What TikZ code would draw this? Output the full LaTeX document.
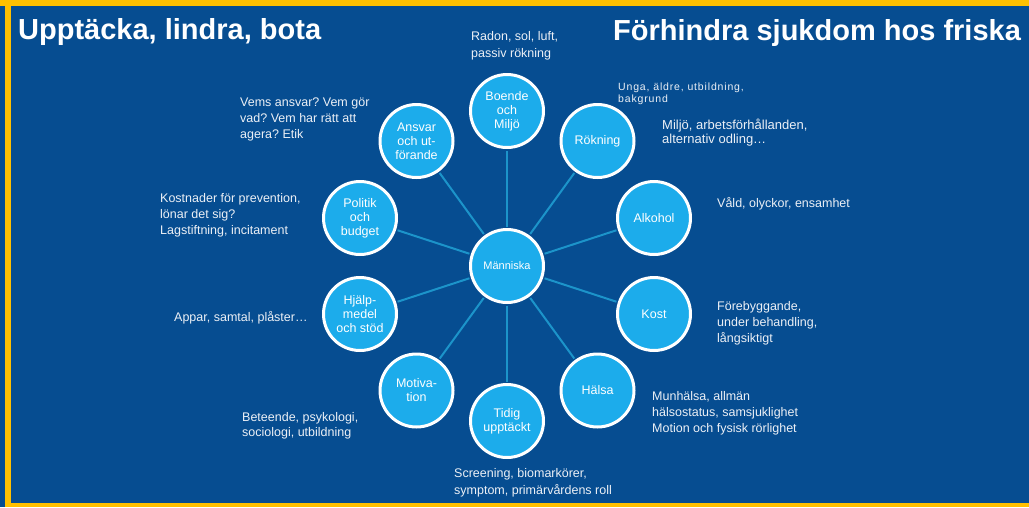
\documentclass[tikz,border=0pt]{standalone}
\usepackage{fontspec}
\setmainfont{Liberation Sans}
\frenchspacing
\definecolor{slideblue}{RGB}{6,77,145}
\definecolor{topicblue}{RGB}{28,172,235}
\definecolor{spokeblue}{RGB}{28,148,202}
\definecolor{framegold}{RGB}{255,192,0}
\definecolor{notegrey}{RGB}{236,240,246}
\begin{document}
\begin{tikzpicture}[x=1pt,y=-1pt,
  topic/.style={circle, fill=topicblue, draw=white, line width=3pt, minimum size=73pt, inner sep=0pt, align=center, text=white, font=\fontsize{12.5}{14}\selectfont},
  note/.style={anchor=north west, inner sep=0pt, align=left, text=notegrey, font=\fontsize{12.5}{16}\selectfont},
  spoke/.style={draw=spokeblue, line width=2pt, shorten >=1.5pt, shorten <=1.5pt},
  heading/.style={anchor=base west, inner sep=0pt, text=white, font=\fontsize{29}{34}\selectfont\bfseries}]
\useasboundingbox (0,0) rectangle (1029,507);
\fill[slideblue] (0,0) rectangle (1029,507);
% gold frame
\fill[framegold] (0,0) rectangle (1029,6);
\fill[framegold] (5,0) rectangle (11,507);
\fill[framegold] (11,503) rectangle (1029,507);
% headings
\node [heading] (leftheading) at (18,39) {Upptäcka, lindra, bota};
\node [heading] (rightheading) at (613,40) {Förhindra sjukdom hos friska};
% topics
\node [topic, font=\fontsize{11}{13}\selectfont] (manniska) at (507,266) {Människa};
\node [topic] (boende) at (507,111) {Boende\\och\\Miljö};
\node [topic] (rokning) at (597.5,141) {Rökning};
\node [topic] (alkohol) at (654,218) {Alkohol};
\node [topic] (kost) at (654,314) {Kost};
\node [topic] (halsa) at (597.5,390.5) {Hälsa};
\node [topic] (tidig) at (507,421) {Tidig\\upptäckt};
\node [topic] (motivation) at (416.5,390.5) {Motiva-\\tion};
\node [topic] (hjalpmedel) at (360,314) {Hjälp-\\medel\\och stöd};
\node [topic] (politik) at (360,218) {Politik\\och\\budget};
\node [topic] (ansvar) at (416.5,141) {Ansvar\\och ut-\\förande};
% spokes
\draw [spoke] (manniska) -- (boende);
\draw [spoke] (manniska) -- (rokning);
\draw [spoke] (manniska) -- (alkohol);
\draw [spoke] (manniska) -- (kost);
\draw [spoke] (manniska) -- (halsa);
\draw [spoke] (manniska) -- (tidig);
\draw [spoke] (manniska) -- (motivation);
\draw [spoke] (manniska) -- (hjalpmedel);
\draw [spoke] (manniska) -- (politik);
\draw [spoke] (manniska) -- (ansvar);
% notes
\node [note, font=\fontsize{12.5}{17}\selectfont] (radon) at (471,31) {Radon, sol, luft,\\passiv rökning};
\node [note] (vems) at (240,98) {Vems ansvar? Vem gör\\vad? Vem har rätt att\\agera? Etik};
\node [note, font=\fontsize{10.5}{12}\selectfont\addfontfeature{LetterSpace=8}] (unga) at (618,83) {Unga, äldre, utbildning,\\bakgrund};
\node [note, font=\fontsize{13}{13.5}\selectfont] (arbete) at (662,119) {Miljö, arbetsförhållanden,\\alternativ odling…};
\node [note] (vald) at (717,197) {Våld, olyckor, ensamhet};
\node [note] (forebygg) at (717,301) {Förebyggande,\\under behandling,\\långsiktigt};
\node [note] (munhalsa) at (652,391) {Munhälsa, allmän\\hälsostatus, samsjuklighet\\Motion och fysisk rörlighet};
\node [note, font=\fontsize{12.5}{17}\selectfont] (screening) at (454,468) {Screening, biomarkörer,\\symptom, primärvårdens roll};
\node [note, font=\fontsize{12.5}{15.5}\selectfont] (beteende) at (242,412) {Beteende, psykologi,\\sociologi, utbildning};
\node [note] (appar) at (174,311) {Appar, samtal, plåster…};
\node [note] (kostnader) at (160,193) {Kostnader för prevention,\\lönar det sig?\\Lagstiftning, incitament};
\end{tikzpicture}
\end{document}
